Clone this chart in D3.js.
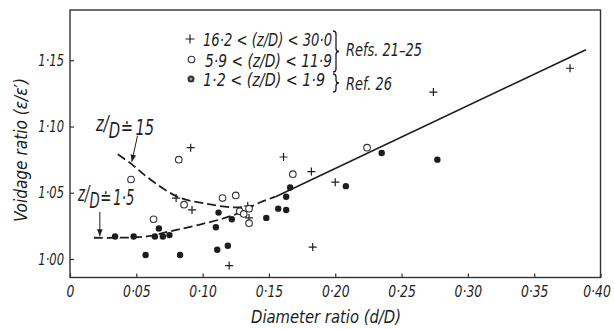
<!DOCTYPE html>
<html>
<head>
<meta charset="utf-8">
<script src="https://cdn.jsdelivr.net/npm/d3@7"></script>
<style>
  body { margin: 0; background: #fff; }
  svg { display: block; }
  text { font-family: "Liberation Sans Narrow", "DejaVu Sans Condensed", sans-serif; font-style: italic; fill: #1e1e1e; }
</style>
</head>
<body>
<div id="chart"></div>
<script>
// values
var crosses = [ // 16.2 < z/D < 30.0
  [0.080, 1.046], [0.091, 1.084], [0.092, 1.037], [0.120, 0.995], [0.134, 1.040],
  [0.135, 1.031], [0.161, 1.077], [0.182, 1.066], [0.183, 1.009], [0.200, 1.058],
  [0.274, 1.126], [0.377, 1.144]
];
var openCircles = [ // 5.9 < z/D < 11.9
  [0.046, 1.060], [0.063, 1.030], [0.082, 1.075], [0.086, 1.041], [0.115, 1.046],
  [0.125, 1.048], [0.128, 1.036], [0.131, 1.034], [0.135, 1.038], [0.135, 1.027],
  [0.168, 1.064], [0.224, 1.084]
];
var filledCircles = [ // 1.2 < z/D < 1.9
  [0.034, 1.017], [0.048, 1.017], [0.057, 1.003], [0.064, 1.017], [0.067, 1.023],
  [0.070, 1.017], [0.075, 1.018], [0.083, 1.003], [0.110, 1.024], [0.111, 1.007],
  [0.112, 1.035], [0.119, 1.010], [0.122, 1.030], [0.148, 1.031], [0.157, 1.038],
  [0.163, 1.037], [0.163, 1.047], [0.166, 1.054], [0.208, 1.055], [0.235, 1.080],
  [0.277, 1.075]
];
// drawn curves
var curveHigh = [[0.036, 1.079], [0.046, 1.072], [0.058, 1.062], [0.081, 1.047], [0.101, 1.042], [0.123, 1.039], [0.138, 1.040]];
var curveLow = [[0.018, 1.016], [0.033, 1.016], [0.058, 1.017], [0.076, 1.021], [0.098, 1.026], [0.123, 1.033], [0.144, 1.043], [0.155, 1.047]];
var fitLine = [[0.155, 1.047], [0.389, 1.158]];

var xTicks = [0, 0.05, 0.10, 0.15, 0.20, 0.25, 0.30, 0.35, 0.40];
var xTickLabels = ["0", "0·05", "0·10", "0·15", "0·20", "0·25", "0·30", "0·35", "0·40"];
var yTicks = [1.00, 1.05, 1.10, 1.15];
var yTickLabels = ["1·00", "1·05", "1·10", "1·15"];

var legendLabels = ["16·2 < (z/D) < 30·0", "5·9 < (z/D) < 11·9", "1·2 < (z/D) < 1·9"];
var refLabels = ["Refs. 21–25", "Ref. 26"];

var w = 614, h = 329;
var ink = "#1e1e1e";

var svg = d3.select("#chart").append("svg")
  .attr("width", w)
  .attr("height", h);

var x = d3.scaleLinear().domain([0, 0.40]).range([70, 600.5]);
var y = d3.scaleLinear().domain([0.986, 1.188]).range([277.5, 10]);

// the print uses a narrow face, squeeze the fallback font to match
function squeeze(sel, k) {
  sel.each(function() {
    var n = this.getComputedTextLength();
    d3.select(this).attr("textLength", n * k).attr("lengthAdjust", "spacingAndGlyphs");
  });
}
function fitTo(sel, len) {
  sel.attr("textLength", len).attr("lengthAdjust", "spacingAndGlyphs");
}

// frame
svg.append("rect")
  .attr("x", x(0)).attr("y", y(1.188))
  .attr("width", x(0.40) - x(0)).attr("height", y(0.986) - y(1.188))
  .attr("fill", "none").attr("stroke", "#333").attr("stroke-width", 1.4);

var xAxis = svg.append("g")
  .attr("transform", "translate(0," + y(0.986) + ")")
  .call(d3.axisBottom(x).tickValues(xTicks).tickSize(-4).tickPadding(8)
    .tickFormat(function(d, i) { return xTickLabels[i]; }));
var yAxis = svg.append("g")
  .attr("transform", "translate(" + x(0) + ",0)")
  .call(d3.axisLeft(y).tickValues(yTicks).tickSize(-4).tickPadding(6)
    .tickFormat(function(d, i) { return yTickLabels[i]; }));

[xAxis, yAxis].forEach(function(g) {
  g.select(".domain").remove();
  g.selectAll(".tick line").attr("stroke", "#333").attr("stroke-width", 1.2);
  g.selectAll(".tick text").attr("font-size", 16).attr("fill", "#1e1e1e")
    .style("font-family", null);
});
yAxis.selectAll(".tick text").attr("x", -6);
squeeze(xAxis.selectAll(".tick text"), 0.86);
squeeze(yAxis.selectAll(".tick text"), 0.8);
// last label sits a little left of its tick in the print
xAxis.selectAll(".tick text").filter(function(d, i) { return i === xTicks.length - 1; }).attr("x", -4);

// axis titles
fitTo(svg.append("text")
  .attr("x", 326).attr("y", 323)
  .attr("text-anchor", "middle").attr("font-size", 17)
  .text("Diameter ratio (d/D)"), 150);
fitTo(svg.append("text")
  .attr("transform", "translate(27,150) rotate(-90)")
  .attr("text-anchor", "middle").attr("font-size", 17)
  .text("Voidage ratio (ε/ε′)"), 144);

// curves
var line = d3.line()
  .x(function(d) { return x(d[0]); })
  .y(function(d) { return y(d[1]); })
  .curve(d3.curveCatmullRom);

svg.append("path").datum(curveHigh).attr("d", line)
  .attr("fill", "none").attr("stroke", ink).attr("stroke-width", 1.8)
  .attr("stroke-dasharray", "9,4");
svg.append("path").datum(curveLow).attr("d", line)
  .attr("fill", "none").attr("stroke", ink).attr("stroke-width", 1.8)
  .attr("stroke-dasharray", "9,4");
svg.append("path").datum(fitLine).attr("d", d3.line().x(function(d) { return x(d[0]); }).y(function(d) { return y(d[1]); }))
  .attr("fill", "none").attr("stroke", ink).attr("stroke-width", 1.6);

// points
svg.selectAll(".cross").data(crosses).enter().append("path")
  .attr("class", "cross")
  .attr("transform", function(d) { return "translate(" + x(d[0]) + "," + y(d[1]) + ")"; })
  .attr("d", "M-4,0H4M0,-4V4")
  .attr("stroke", ink).attr("stroke-width", 1.2);

svg.selectAll(".open").data(openCircles).enter().append("circle")
  .attr("class", "open")
  .attr("cx", function(d) { return x(d[0]); })
  .attr("cy", function(d) { return y(d[1]); })
  .attr("r", 3.3)
  .attr("fill", "#fff").attr("stroke", "#333").attr("stroke-width", 1.1);

svg.selectAll(".filled").data(filledCircles).enter().append("circle")
  .attr("class", "filled")
  .attr("cx", function(d) { return x(d[0]); })
  .attr("cy", function(d) { return y(d[1]); })
  .attr("r", 3.2)
  .attr("fill", "#1c1c1c");

// arrows with the z/D labels
svg.append("defs").append("marker")
  .attr("id", "head").attr("viewBox", "0 0 10 10")
  .attr("refX", 10).attr("refY", 5)
  .attr("markerWidth", 7).attr("markerHeight", 7)
  .attr("orient", "auto")
  .append("path").attr("d", "M0,1L10,5L0,9Z").attr("fill", ink);

svg.append("line")
  .attr("x1", x(0.0509)).attr("y1", y(1.093))
  .attr("x2", x(0.0466)).attr("y2", y(1.0735))
  .attr("stroke", ink).attr("stroke-width", 1).attr("marker-end", "url(#head)");
svg.append("line")
  .attr("x1", x(0.0225)).attr("y1", y(1.0356))
  .attr("x2", x(0.0225)).attr("y2", y(1.0172))
  .attr("stroke", ink).attr("stroke-width", 1).attr("marker-end", "url(#head)");

function zLabel(px, py, num, width) {
  var g = svg.append("g");
  var t = g.append("text").attr("font-size", 22);
  t.append("tspan").attr("dy", -4).text("z");
  t.append("tspan").attr("dy", 0).text("/");
  t.append("tspan").attr("dy", 7).text("D");
  t.append("tspan").attr("dy", -3).attr("dx", 1).text("≐");
  t.append("tspan").attr("dx", 3).text(num);
  var bw = t.node().getBBox().width;
  g.attr("transform", "translate(" + px + "," + py + ") scale(" + (width / bw) + ",1)");
}
zLabel(96, 135, "15", 59);
zLabel(78, 205, "1·5", 57);

// legend
var lx = 190, ly = [39, 59.5, 79];
svg.append("path")
  .attr("transform", "translate(" + lx + "," + ly[0] + ")")
  .attr("d", "M-4.5,0H4.5M0,-4.5V4.5")
  .attr("stroke", ink).attr("stroke-width", 1.2);
svg.append("circle").attr("cx", lx + 1.5).attr("cy", ly[1]).attr("r", 3.3)
  .attr("fill", "#fff").attr("stroke", "#333").attr("stroke-width", 1.1);
svg.append("circle").attr("cx", lx + 1).attr("cy", ly[2]).attr("r", 3.5).attr("fill", "#333");
svg.append("circle").attr("cx", lx + 1).attr("cy", ly[2]).attr("r", 1.4).attr("fill", "#999");

var legWidths = [129, 127, 122];
svg.selectAll(".leg").data(legendLabels).enter().append("text")
  .attr("class", "leg")
  .attr("x", function(d, i) { return i === 1 ? 205 : 203; })
  .attr("y", function(d, i) { return ly[i] + 7; })
  .attr("font-size", 18)
  .attr("textLength", function(d, i) { return legWidths[i]; })
  .attr("lengthAdjust", "spacingAndGlyphs")
  .text(function(d) { return d; });

function brace(x0, y1, y2) {
  var r = 3, ym = (y1 + y2) / 2;
  return "M" + x0 + "," + y1 + " q3,0 3," + r + " L" + (x0 + 3) + "," + (ym - r) +
    " q0," + r + " 3," + r + " q-3,0 -3," + r + " L" + (x0 + 3) + "," + (y2 - r) +
    " q0," + r + " -3," + r;
}
svg.append("path").attr("d", brace(333, 31, 72))
  .attr("fill", "none").attr("stroke", ink).attr("stroke-width", 1.3);
svg.append("path").attr("d", brace(333, 74, 92))
  .attr("fill", "none").attr("stroke", ink).attr("stroke-width", 1.3);

fitTo(svg.append("text").attr("x", 346).attr("y", 56).attr("font-size", 18).text(refLabels[0]), 76);
fitTo(svg.append("text").attr("x", 346).attr("y", 90).attr("font-size", 18).text(refLabels[1]), 46);
</script>
</body>
</html>
